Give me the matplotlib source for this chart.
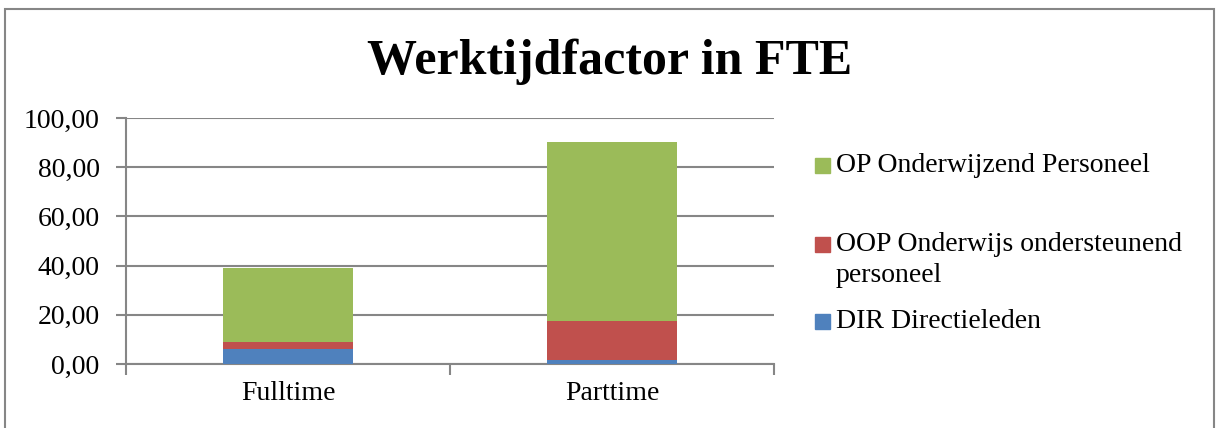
import matplotlib.pyplot as plt
from matplotlib.patches import Rectangle

# data (FTE)
categories = ['Fulltime', 'Parttime']
dir_fte = [6.2, 1.6]
oop_fte = [2.6, 15.8]
op_fte = [30.1, 72.8]

series_names = ['DIR Directieleden',
                'OOP Onderwijs ondersteunend\npersoneel',
                'OP Onderwijzend Personeel']
colors = ['#4F81BD', '#C0504D', '#9BBB59']

plt.rcParams['font.family'] = ['Liberation Serif', 'DejaVu Serif']

fig = plt.figure(figsize=(12.16, 4.28), dpi=100)
ax = fig.add_axes([126 / 1216, 64 / 428, 648 / 1216, 246 / 428])

x = list(range(len(categories)))
bottom = [0] * len(categories)
for vals, col in zip([dir_fte, oop_fte, op_fte], colors):
    ax.bar(x, vals, width=0.4, bottom=bottom, color=col, zorder=3)
    bottom = [b + v for b, v in zip(bottom, vals)]

ax.set_xlim(-0.5, 1.5)
ax.set_ylim(0, 100)
ax.set_yticks(range(0, 101, 20))
ax.set_yticklabels([f'{v:.2f}'.replace('.', ',') for v in range(0, 101, 20)], fontsize=20)
ax.grid(axis='y', color='#868686', linewidth=1.5, zorder=0)
ax.set_xticks(x)
ax.set_xticklabels(categories, fontsize=20)
ax.tick_params(axis='x', length=0, pad=12)
ax.set_xticks([-0.5, 0.5, 1.5], minor=True)
ax.tick_params(axis='x', which='minor', length=8, width=1.5, color='#868686')
ax.tick_params(axis='y', length=7, width=1.5, color='#868686', pad=12)

for side in ['top', 'right']:
    ax.spines[side].set_visible(False)
for side in ['left', 'bottom']:
    ax.spines[side].set_color('#868686')
    ax.spines[side].set_linewidth(1.5)

fig.text(610 / 1216, 1 - 62 / 428, 'Werktijdfactor in FTE', fontsize=36,
         fontweight='bold', ha='center', va='center')

# legend drawn by hand (Excel-style spacing)
legend_y = [166, 260, 322]
legend_order = [2, 1, 0]
for y, i in zip(legend_y, legend_order):
    box_y = y if i != 1 else 245
    fig.patches.append(Rectangle((815 / 1216, 1 - (box_y + 7) / 428), 15 / 1216, 15 / 428,
                                 transform=fig.transFigure, color=colors[i]))
    fig.text(836 / 1216, 1 - y / 428, series_names[i], fontsize=20,
             ha='left', va='center', linespacing=1.35)

fig.patches.append(Rectangle((5 / 1216, -0.05), 1209 / 1216, 1.05 - 9 / 428,
                             transform=fig.transFigure, fill=False,
                             edgecolor='#868686', linewidth=1.5))

fig.savefig('out.png', dpi=100)
